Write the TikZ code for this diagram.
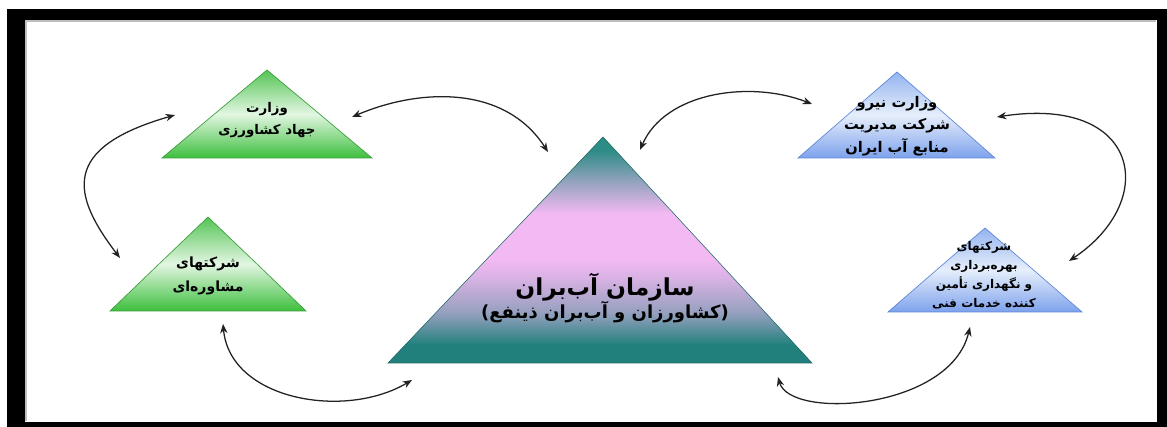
\documentclass[tikz,border=0pt]{standalone}
\usepackage{fontspec}
\newfontfamily\fa[Script=Arabic]{DejaVu Sans}
\TeXXeTstate=1
\usetikzlibrary{arrows.meta}
\definecolor{gtop}{HTML}{55C455}
\definecolor{gmid}{HTML}{E2F6E2}
\definecolor{gbot}{HTML}{3DBF3D}
\definecolor{gedge}{HTML}{3A9E3A}
\definecolor{btop}{HTML}{94B4F0}
\definecolor{bmid}{HTML}{E6EEFB}
\definecolor{bbot}{HTML}{7DA2EC}
\definecolor{bedge}{HTML}{5D86D6}
\definecolor{ctop}{HTML}{2E8C86}
\definecolor{cmid}{HTML}{F3B9F3}
\definecolor{cbot}{HTML}{21807C}
\definecolor{arrc}{HTML}{222222}
\pgfdeclareverticalshading{cshade}{100bp}{color(0bp)=(cbot); color(25bp)=(cbot); color(29bp)=(cbot); color(36bp)=(cbot!45!cmid); color(44bp)=(cmid!88!cbot); color(48bp)=(cmid); color(58bp)=(cmid); color(66bp)=(ctop!55!cmid); color(72bp)=(ctop); color(75bp)=(ctop); color(100bp)=(ctop)}
\tikzset{
  gtri/.style={top color=gtop, bottom color=gbot, middle color=gmid, draw=gedge, line width=0.5pt},
  btri/.style={top color=btop, bottom color=bbot, middle color=bmid, draw=bedge, line width=0.5pt},
  ctri/.style={shading=cshade, draw=cbot!80!black, line width=0.4pt},
  lbl/.style={font=\fa\bfseries\fontsize{10}{17}\selectfont, align=center, inner sep=0pt},
  biglbl/.style={font=\fa\bfseries\fontsize{17.5}{20}\selectfont, align=center, inner sep=0pt},
  sublbl/.style={font=\fa\bfseries\fontsize{13.5}{16}\selectfont, align=center, inner sep=0pt},
  arr/.style={draw=arrc, line width=0.95pt, {Stealth[length=7pt,width=5.5pt]}-{Stealth[length=7pt,width=5.5pt]}}
}
\begin{document}
\begin{tikzpicture}[x=0.75pt,y=-0.75pt]
\useasboundingbox (0,0) rectangle (1167,427);
% frame
\fill[black] (7,9) rectangle (1167,427);
\fill[white] (25,20) rectangle (1157,422);
\draw[black!25, line width=1.5pt] (26,421) -- (26,21) -- (1156,21);
% triangles
\shadedraw[gtri] (162,158) -- (267,70) -- (372,158) -- cycle;
\shadedraw[btri] (798,158) -- (897,72) -- (995,158) -- cycle;
\shadedraw[gtri] (110,311) -- (208,217) -- (306,311) -- cycle;
\shadedraw[btri] (888,312) -- (985,228) -- (1082,312) -- cycle;
\shadedraw[ctri] (388,363) -- (603,137) -- (812,363) -- cycle;
% labels
\node[lbl] (jehad) at (267,120) {\beginR وزارت\endR\\\beginR جهاد کشاورزی\endR};
\node[lbl, font=\fa\bfseries\fontsize{11}{17}\selectfont] (niroo) at (897,126) {\beginR وزارت نیرو\endR\\\beginR شرکت مدیریت\endR\\\beginR منابع آب ایران\endR};
\node[lbl, font=\fa\bfseries\fontsize{10.5}{18}\selectfont] (moshaver) at (208,276) {\beginR شرکتهای\endR\\\beginR مشاوره^^^^200cای\endR};
\node[lbl, font=\fa\bfseries\fontsize{9}{14.2}\selectfont] (bahre) at (984,275) {\beginR شرکتهای\endR\\\beginR بهره^^^^200cبرداری\endR\\\beginR و نگهداری تأمین\endR\\\beginR کننده خدمات فنی\endR};
\node[biglbl] (sazman) at (605,287) {\beginR سازمان آب^^^^200cبران\endR};
\node[sublbl] (kesh) at (605,312) {\beginR (کشاورزان و آب^^^^200cبران ذینفع)\endR};
% arrow end points
\coordinate (s1) at (352,117); \coordinate (e1) at (548,152);
\coordinate (s2) at (640,150); \coordinate (e2) at (812,104);
\coordinate (s3) at (997,117); \coordinate (e3) at (1069,261);
\coordinate (s4) at (175,115); \coordinate (e4) at (120,258);
\coordinate (s5) at (223,324); \coordinate (e5) at (412,380);
\coordinate (s6) at (778,377); \coordinate (e6) at (970,327);
% arrows
\draw[arr] (s1) .. controls (420,88) and (505,85) .. (e1);
\draw[arr] (s2) .. controls (665,92) and (750,80) .. (e2);
\draw[arr] (s3) .. controls (1140,95) and (1160,200) .. (e3);
\draw[arr] (s4) .. controls (60,148) and (72,195) .. (e4);
\draw[arr] (s5) .. controls (230,400) and (345,420) .. (e5);
\draw[arr] (s6) .. controls (790,420) and (950,410) .. (e6);
\end{tikzpicture}
\end{document}
